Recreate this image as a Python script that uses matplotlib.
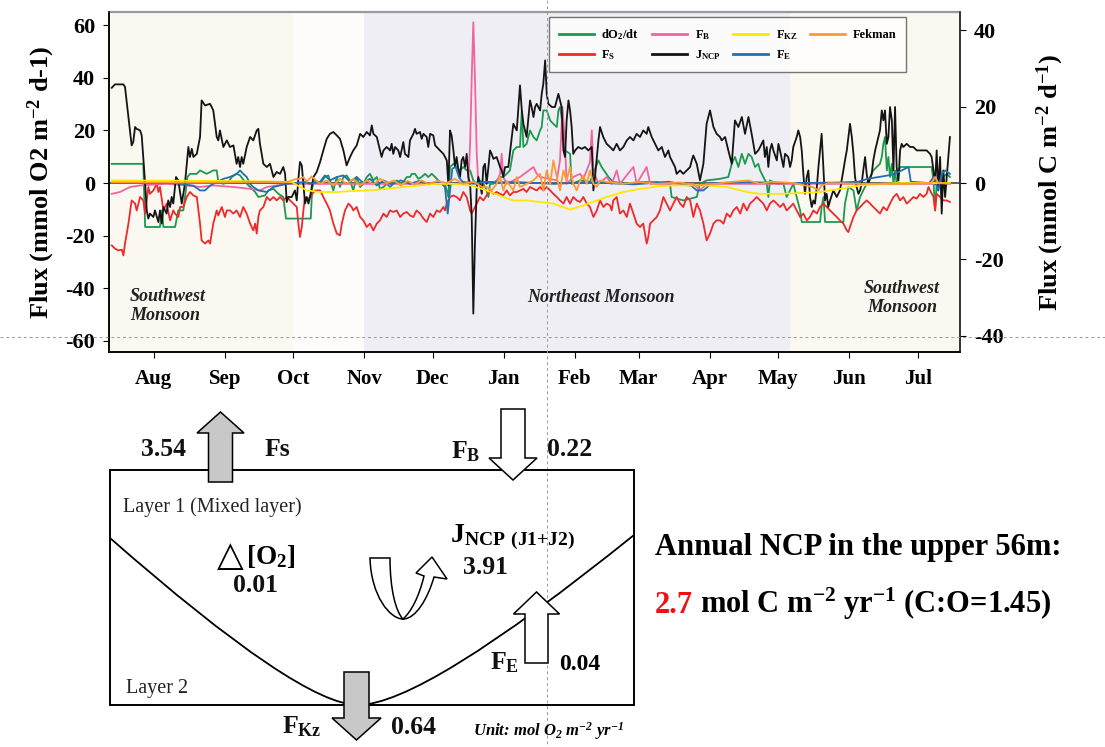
import matplotlib
matplotlib.use("Agg")
import matplotlib.pyplot as plt
import numpy as np
from matplotlib.lines import Line2D
from matplotlib.patches import FancyArrow, Rectangle, PathPatch
from matplotlib.path import Path

plt.rcParams["font.family"] = ["Liberation Serif", "DejaVu Serif"]
plt.rcParams["font.weight"] = "bold"
plt.rcParams["axes.labelweight"] = "bold"
plt.rcParams["axes.unicode_minus"] = False
plt.rcParams["mathtext.default"] = "regular"
plt.rcParams["axes.linewidth"] = 1.2

# x positions are days counted from 1 Aug
MONTHS = ["Aug", "Sep", "Oct", "Nov", "Dec", "Jan", "Feb", "Mar", "Apr", "May", "Jun", "Jul"]
MONTH_START = [0, 31, 61, 92, 122, 153, 184, 212, 243, 273, 304, 334]

# (day, mmol O2 m-2 d-1)
jncp = [
    (-18.4, 36.2), (-17.0, 37.5), (-13.3, 37.5), (-12.6, 36.5), (-9.7, 14.3), (-9.0, 15.6), (-8.2, 21.3),
    (-7.5, 20.6), (-6.0, 20.0), (-5.3, 18.1), (-3.8, -0.3), (-3.1, -10.4), (-2.4, -13.5), (-1.7, -11.6),
    (-0.2, -12.9), (0.5, -10.4), (2.0, -14.8), (2.7, -10.4), (3.5, -15.4), (4.2, -9.1), (5.6, -11.6),
    (6.3, -6.6), (7.1, -9.1), (7.8, -5.3), (8.5, -7.8), (9.7, 2.3), (10.7, 1.0), (12.2, -7.8), (13.6, -0.3),
    (15.1, 13.7), (15.8, 9.9), (16.6, 13.0), (17.3, 9.9), (18.8, 11.1), (20.2, 17.5), (20.9, 31.4),
    (22.4, 29.5), (24.6, 30.1), (26.0, 27.6), (27.5, 17.5), (28.2, 16.2), (28.9, 20.0), (30.4, 13.7),
    (31.9, 16.2), (33.3, 13.7), (34.8, 14.3), (36.2, 7.3), (36.9, 9.9), (37.7, 6.1), (38.4, 9.9), (39.1, 7.3),
    (40.6, 13.7), (42.1, 17.5), (43.5, 16.2), (45.0, 20.0), (45.7, 20.6), (46.4, 14.9), (47.9, 7.3),
    (49.4, 6.1), (50.8, 7.3), (52.3, 2.3), (53.7, 4.2), (55.2, 3.5), (55.9, 4.8), (56.6, 6.1), (57.4, 3.5),
    (58.1, -7.2), (58.8, -5.3), (60.3, -5.3), (61.7, -2.8), (62.5, -6.6), (63.2, 1.6), (63.9, 8.0),
    (64.7, 6.7), (65.4, -0.3), (66.1, -7.8), (66.9, -5.3), (67.6, -7.8), (68.3, -5.3), (69.8, 2.3),
    (71.2, 4.2), (72.7, 8.0), (74.1, 12.4), (75.6, 16.8), (77.0, 18.7), (78.5, 19.4), (80.0, 18.1),
    (81.4, 16.8), (82.9, 12.4), (84.3, 6.7), (85.8, 9.9), (87.2, 12.4), (88.7, 14.3), (90.2, 18.7),
    (91.6, 17.5), (93.1, 19.4), (94.5, 18.1), (95.3, 21.9), (96.0, 18.7), (97.5, 17.5), (98.9, 12.4),
    (99.6, 9.9), (100.4, 12.4), (101.8, 13.7), (103.3, 12.4), (104.0, 14.9), (104.7, 11.1), (105.5, 13.7),
    (106.9, 12.4), (107.7, 9.9), (109.1, 15.6), (109.8, 11.1), (111.3, 9.9), (112.0, 16.2), (113.5, 18.7),
    (114.2, 20.6), (114.9, 18.7), (116.4, 19.4), (117.1, 16.8), (117.9, 18.7), (119.3, 17.5), (120.0, 13.7),
    (120.8, 18.7), (122.2, 18.1), (123.0, 14.3), (123.7, 13.7), (125.1, 12.4), (126.6, 11.1), (128.1, 8.6),
    (128.8, -0.9), (129.5, 20.0), (130.2, 18.1), (131.0, 12.4), (131.7, 6.1), (132.4, 9.9), (133.2, 4.8),
    (133.9, 2.3), (134.6, 8.6), (135.3, 9.9), (136.1, 6.1), (136.8, 11.1), (137.5, 2.3), (138.3, -0.3),
    (139.0, -12.9), (139.7, -49.6), (140.4, -23.0), (141.2, -1.5), (141.9, 2.3), (142.6, -0.3), (143.4, -4.1),
    (144.1, 6.1), (144.8, 7.3), (145.5, -0.3), (146.3, 6.1), (147.0, 12.4), (147.7, 11.1), (148.5, 9.2),
    (149.9, 9.9), (151.4, 6.1), (152.1, 4.8), (152.8, 2.3), (153.6, 6.1), (155.0, 6.1), (156.5, 17.5),
    (157.2, 22.5), (158.7, 20.0), (160.1, 37.1), (160.9, 27.6), (161.6, 22.5), (162.3, 20.0), (163.0, 17.5),
    (164.5, 31.4), (165.2, 28.9), (166.0, 25.1), (166.7, 28.9), (167.4, 30.1), (168.9, 27.6), (169.6, 33.9),
    (170.3, 37.7), (171.1, 46.6), (171.8, 33.9), (172.5, 30.1), (174.0, 28.9), (175.4, 28.9), (176.9, 33.9),
    (177.6, 31.4), (178.3, 28.9), (179.1, 12.4), (179.8, 9.9), (180.5, 23.8), (181.3, 31.4), (182.0, 27.6),
    (182.7, 21.3), (183.4, 11.1), (184.2, 12.4), (185.6, 13.7), (187.1, 13.0), (188.5, 13.7), (190.0, 12.4),
    (191.5, 13.7), (192.2, -2.8), (192.9, 2.3), (194.4, 16.2), (195.1, 21.3), (196.5, 17.5), (198.0, 14.9),
    (199.5, 13.7), (200.9, 12.4), (202.4, 14.9), (203.8, 12.4), (205.3, 13.7), (206.8, 16.2), (208.2, 17.5),
    (209.7, 16.2), (211.1, 18.7), (212.6, 17.5), (214.0, 20.0), (215.5, 18.7), (216.2, 21.3), (217.7, 17.5),
    (219.2, 14.9), (220.6, 12.4), (222.1, 13.7), (223.5, 9.9), (225.0, 12.4), (225.7, 9.9), (227.2, 7.3),
    (227.9, 6.1), (228.6, 3.5), (230.1, 4.8), (231.5, 3.5), (233.0, 4.8), (234.5, 6.1), (235.2, 8.6),
    (235.9, 10.5), (237.4, 7.3), (238.8, 1.0), (240.3, 7.3), (241.7, 22.5), (243.2, 27.6), (244.7, 21.3),
    (246.1, 18.7), (247.6, 17.5), (248.3, 16.2), (249.8, 17.5), (250.5, 14.9), (251.2, 12.4), (252.7, 7.3),
    (254.1, 23.8), (255.6, 21.3), (257.1, 25.1), (258.5, 18.7), (260.0, 25.1), (261.4, 18.7), (262.9, 11.1),
    (264.3, 12.4), (265.1, 13.7), (266.5, 16.2), (267.2, 9.9), (268.0, 13.7), (268.7, 6.1), (269.4, 12.4),
    (270.2, 14.9), (270.9, 12.4), (272.4, 8.6), (273.1, 14.9), (273.8, 12.4), (275.3, 6.1), (276.0, 11.1),
    (277.4, 9.9), (278.2, 6.1), (278.9, 8.6), (279.6, 13.7), (281.1, 17.5), (281.8, 20.0), (282.6, 17.5),
    (283.3, 12.4), (284.0, 3.5), (284.7, -4.1), (285.5, 2.3), (286.2, 4.8), (286.9, -5.3), (287.7, -9.1),
    (288.4, -6.6), (289.1, -7.8), (289.9, -1.5), (290.6, 6.1), (291.3, 12.4), (292.0, 18.7), (292.8, 4.8),
    (293.5, -6.6), (294.2, -4.1), (294.9, -9.1), (295.7, -6.6), (297.1, -2.8), (298.6, -5.3), (300.0, -2.8),
    (301.5, 4.8), (302.2, 8.6), (303.0, 12.4), (303.7, 17.5), (304.4, 22.5), (305.2, 17.5), (305.9, 11.1),
    (306.6, 2.3), (307.3, -1.5), (308.1, -4.1), (308.8, -2.8), (309.5, -0.3), (310.2, 4.8), (311.0, 9.9),
    (311.7, 3.5), (312.4, -0.3), (313.9, 3.5), (314.6, 8.6), (315.4, 12.4), (316.1, 14.9), (316.8, 17.5),
    (317.5, 20.0), (318.3, 27.6), (319.0, 23.8), (319.7, 27.6), (320.5, 14.9), (321.2, 17.5), (321.9, 28.9),
    (322.7, 23.8), (323.4, 4.8), (324.1, 28.9), (324.8, 6.1), (325.6, 1.0), (326.3, 12.4), (327.0, 14.9),
    (327.7, 13.7), (329.2, 14.9), (330.7, 13.7), (332.1, 13.7), (333.6, 12.4), (335.0, 12.4), (336.5, 12.4),
    (337.9, 12.4), (339.4, 11.1), (340.1, 9.9), (340.9, 4.8), (341.6, -0.3), (342.3, 12.4), (343.0, -2.8),
    (343.8, 9.9), (344.5, -11.6), (345.2, 4.8), (346.0, -5.3), (346.7, 2.3), (347.4, 9.9), (348.1, 17.5),
]

fs = [
    (-18.4, -23.7), (-17.0, -24.9), (-15.5, -25.6), (-14.0, -25.3), (-13.3, -27.5), (-12.6, -23.0),
    (-11.1, -15.4), (-9.7, -6.6), (-8.2, -7.8), (-7.5, -10.4), (-6.0, -5.3), (-4.6, -6.6), (-3.8, -11.6),
    (-2.4, -1.5), (-1.7, -4.1), (-0.2, -2.8), (1.3, -0.3), (2.0, -3.4), (2.7, -1.5), (4.2, -10.4), (5.6, -7.8),
    (7.1, -14.2), (8.5, -10.4), (9.3, -11.6), (10.7, -12.9), (11.5, -9.1), (12.9, -9.1), (14.4, -5.3),
    (15.8, -3.4), (17.3, -4.7), (18.8, -5.3), (19.5, -10.4), (20.2, -15.4), (20.9, -21.8), (22.4, -23.0),
    (23.9, -21.8), (24.6, -23.0), (26.0, -15.4), (27.5, -10.4), (28.2, -12.3), (29.7, -9.1), (31.1, -12.9),
    (31.9, -10.4), (33.3, -10.4), (34.8, -11.6), (36.2, -10.4), (37.7, -12.9), (39.1, -9.1), (40.6, -11.6),
    (42.1, -15.4), (43.5, -18.0), (44.3, -15.4), (45.0, -19.2), (45.7, -12.9), (46.4, -10.4), (47.9, -9.1),
    (49.4, -5.3), (50.8, -6.6), (52.3, -5.3), (53.7, -6.6), (55.2, -5.3), (56.6, -6.6), (58.1, -5.3),
    (59.6, -6.6), (61.0, -7.8), (62.5, -9.1), (63.2, -15.4), (63.9, -20.5), (64.7, -16.7), (65.4, -10.4),
    (66.1, -5.3), (66.9, -6.6), (68.3, -5.3), (70.5, -2.8), (72.7, -2.8), (74.1, -5.3), (75.6, -7.8),
    (77.0, -10.4), (78.5, -15.4), (80.0, -19.2), (81.4, -19.9), (82.2, -15.4), (83.6, -10.4), (85.1, -7.8),
    (86.5, -9.1), (87.2, -10.4), (88.7, -9.1), (90.2, -12.9), (91.6, -14.2), (93.1, -16.7), (94.5, -15.4),
    (96.0, -18.0), (97.5, -15.4), (98.9, -14.2), (100.4, -11.6), (101.8, -12.9), (103.3, -10.4),
    (104.7, -11.0), (106.2, -10.4), (107.7, -12.9), (109.1, -11.6), (110.6, -11.0), (112.0, -12.3),
    (113.5, -12.9), (114.9, -10.4), (116.4, -11.6), (117.9, -13.5), (119.3, -14.8), (120.8, -11.6),
    (122.2, -12.9), (123.7, -10.4), (125.1, -11.0), (126.6, -9.1), (127.3, -10.4), (128.1, -7.8),
    (129.5, -5.3), (131.0, -4.7), (132.4, -5.3), (133.9, -6.6), (135.3, -3.4), (136.8, -5.3), (138.3, -10.4),
    (139.0, -11.6), (139.7, -10.4), (141.2, -7.8), (142.6, -5.3), (144.1, -6.6), (145.5, -4.7), (147.0, -2.8),
    (148.5, -4.1), (149.9, -3.4), (151.4, -4.1), (152.8, -4.7), (154.3, -2.8), (155.7, -4.7), (157.2, -3.4),
    (158.7, -3.4), (160.1, -2.8), (161.6, -2.2), (163.0, -3.4), (164.5, -1.5), (166.0, -2.2), (167.4, -2.8),
    (168.9, -1.5), (170.3, -2.8), (171.8, -1.5), (173.3, -2.8), (174.7, -4.1), (176.2, -5.3), (177.6, -6.6),
    (179.1, -7.8), (180.5, -5.3), (182.0, -7.8), (183.4, -5.3), (184.9, -6.6), (186.4, -7.2), (187.8, -5.3),
    (189.3, -7.8), (190.7, -9.1), (192.2, -12.9), (193.7, -10.4), (195.1, -6.6), (196.6, -9.1), (198.0, -7.8),
    (199.5, -8.5), (200.2, -10.4), (200.9, -6.6), (202.4, -5.3), (203.8, -11.6), (205.3, -10.4),
    (206.8, -12.9), (208.2, -7.8), (209.7, -11.6), (211.1, -15.4), (212.6, -16.7), (214.0, -15.4),
    (215.5, -23.0), (216.2, -20.5), (217.0, -15.4), (218.4, -14.2), (219.9, -12.9), (221.3, -10.4),
    (222.8, -5.3), (224.2, -7.8), (225.7, -10.4), (227.2, -7.8), (228.6, -5.3), (230.1, -7.8), (231.5, -9.1),
    (233.0, -5.3), (234.5, -6.6), (235.9, -12.9), (237.4, -7.8), (238.8, -10.4), (240.3, -15.4),
    (241.7, -21.8), (243.2, -19.2), (244.7, -15.4), (246.1, -14.2), (247.6, -14.2), (249.1, -15.4),
    (250.5, -11.6), (252.0, -12.9), (253.4, -10.4), (254.9, -9.1), (256.4, -11.6), (257.8, -7.8),
    (259.3, -10.4), (260.7, -7.8), (262.2, -6.6), (263.6, -5.3), (265.1, -6.6), (266.5, -7.8), (268.0, -10.4),
    (269.4, -7.8), (270.9, -6.6), (272.4, -7.8), (273.8, -9.1), (275.3, -7.8), (276.7, -10.4), (278.2, -9.1),
    (279.6, -7.8), (281.1, -10.4), (282.6, -12.9), (284.0, -11.6), (285.5, -14.2), (286.9, -12.9),
    (288.4, -10.4), (289.9, -11.6), (291.3, -9.1), (292.8, -7.8), (294.2, -9.1), (295.7, -10.4),
    (297.1, -11.6), (298.6, -12.9), (300.0, -14.2), (301.5, -15.4), (303.0, -18.0), (303.7, -18.6),
    (304.4, -16.7), (305.9, -12.9), (307.3, -10.4), (308.8, -9.1), (310.2, -7.8), (311.7, -6.6), (313.2, -7.8),
    (314.6, -9.1), (316.1, -10.4), (317.5, -11.6), (319.0, -9.1), (320.5, -10.4), (321.9, -7.8), (323.4, -5.3),
    (324.8, -4.1), (326.3, -6.6), (327.7, -5.3), (329.2, -7.8), (330.7, -6.6), (332.1, -5.3), (333.6, -5.9),
    (335.0, -4.1), (336.5, -5.3), (337.9, -4.1), (338.7, -1.5), (339.4, -2.8), (340.9, -5.3), (341.6, -10.4),
    (342.3, -4.1), (343.8, -5.3), (345.2, -6.6), (346.7, -6.6), (348.1, -7.2),
]

do2dt = [
    (-18.4, 7.3), (-4.6, 7.3), (-3.8, -16.7), (2.7, -16.7), (3.5, -10.4), (4.2, -16.7), (9.3, -16.7),
    (10.7, -10.4), (12.9, -10.4), (14.7, 2.3), (15.8, 3.5), (18.8, 3.5), (20.2, 4.8), (23.1, 3.5), (26.0, 4.8),
    (27.5, 4.8), (28.2, 0.4), (30.4, -0.3), (32.6, 0.4), (34.1, 2.3), (36.2, 3.5), (37.7, 2.9), (39.9, 0.4),
    (42.1, -1.5), (44.3, -3.4), (45.7, -5.3), (48.6, -4.7), (50.1, -2.8), (52.3, -2.2), (54.5, -4.1),
    (56.6, -5.3), (57.8, -13.5), (68.6, -13.5), (69.3, -1.5), (70.5, 1.0), (72.7, -0.3), (74.8, 2.3),
    (76.3, 2.9), (78.5, -2.8), (80.0, 2.3), (81.4, -1.5), (82.9, 2.3), (84.3, 2.9), (85.8, 1.0), (87.2, -2.8),
    (88.7, 2.3), (90.2, -1.5), (91.6, -0.3), (93.1, 2.3), (94.5, 3.5), (96.0, 1.0), (97.5, 2.3), (98.9, -2.2),
    (100.4, -1.5), (101.8, -0.3), (103.3, -1.5), (104.7, -0.3), (106.2, 1.0), (107.7, -0.3), (109.1, 0.4),
    (110.6, 2.3), (112.0, 2.3), (112.8, 3.5), (114.2, 3.5), (115.7, 1.6), (117.1, 2.3), (118.6, 3.5),
    (120.0, 2.3), (121.5, 3.5), (123.0, 2.3), (124.4, 1.0), (125.9, -0.3), (127.3, -0.3), (128.1, -2.8),
    (128.8, -5.3), (129.5, 6.1), (131.0, 7.3), (132.4, 6.1), (133.9, 4.8), (135.3, 6.1), (136.8, 4.8),
    (138.3, 4.8), (139.7, 1.0), (141.2, -0.3), (142.6, 1.0), (144.1, -0.3), (145.5, -2.8), (146.3, -5.3),
    (147.0, -0.3), (148.5, -0.3), (149.9, 1.0), (151.4, 2.3), (152.8, 2.3), (154.3, 3.5), (155.7, 4.8),
    (157.2, 12.4), (158.7, 13.7), (160.1, 13.7), (160.9, 27.6), (161.6, 13.7), (163.0, 14.9), (164.5, 20.0),
    (166.0, 17.5), (167.4, 16.2), (168.9, 20.0), (169.6, 21.3), (170.3, 27.6), (171.8, 27.6), (173.3, 23.8),
    (174.7, 22.5), (176.2, 21.3), (176.9, 27.6), (177.6, 28.9), (178.3, 25.1), (179.1, 17.5), (179.8, 12.4),
    (182.0, 11.1), (182.7, -0.3), (186.4, 1.0), (190.7, 0.4), (194.4, 8.6), (195.8, 6.1), (197.3, 4.2),
    (198.8, 2.3), (200.9, 0.4), (206.8, -0.3), (212.6, 0.4), (219.9, 0.4), (225.7, -0.3), (226.4, -5.3),
    (231.5, -6.6), (237.4, -5.3), (238.8, -0.3), (241.7, 1.0), (247.6, 1.6), (251.2, 2.3), (252.7, 7.3),
    (254.1, 9.9), (255.6, 6.1), (257.1, 11.1), (258.5, 7.3), (260.0, 11.1), (261.4, 9.9), (262.9, 6.1),
    (264.3, 7.3), (265.1, 4.8), (266.5, 2.3), (268.0, -0.3), (268.7, -5.3), (269.4, 1.0), (272.4, -0.3),
    (275.3, -0.3), (276.7, -5.3), (278.2, -2.8), (279.6, -0.3), (281.1, -5.3), (282.6, -10.4), (283.3, -14.8),
    (291.3, -14.8), (292.0, -9.1), (292.8, -5.3), (293.5, -14.8), (301.5, -14.8), (302.2, -7.8),
    (303.7, -1.5), (305.9, -2.8), (307.3, -10.4), (308.8, -5.3), (310.2, -2.8), (311.7, -0.3), (313.2, 2.3),
    (314.6, 4.8), (317.5, 7.3), (318.3, 9.9), (319.0, 14.9), (319.7, 17.5), (320.5, 4.8), (321.2, 9.9),
    (321.9, 2.3), (322.7, 7.3), (323.4, -0.3), (324.1, 4.8), (324.8, -0.3), (326.3, 6.1), (340.1, 6.1),
    (340.9, 1.0), (341.6, -10.4), (342.3, -0.3), (343.8, 4.8), (344.5, -5.3), (345.2, 2.3), (346.7, 3.5),
    (348.1, 2.3),
]

fb = [
    (-18.4, -4.1), (-14.8, -3.4), (-10.4, -1.5), (-6.0, -0.9), (5.6, -0.3), (14.4, -0.9), (20.2, -1.5),
    (26.0, -0.9), (34.8, -1.5), (42.1, -2.2), (46.4, -2.8), (49.4, -1.5), (58.1, -0.3), (72.7, -0.3),
    (100.0, -0.3), (137.5, -0.3), (138.3, 14.9), (139.0, 40.0), (139.7, 61.1), (140.4, 40.3), (141.2, 11.1),
    (141.9, -0.3), (150.0, 0.5), (151.4, 3.5), (152.1, 11.1), (152.8, 2.3), (154.3, -0.3), (160.1, 2.3),
    (166.0, 6.1), (167.4, 3.5), (168.9, 2.3), (176.2, 1.0), (177.6, 8.6), (178.7, 28.9), (179.8, 14.9),
    (180.5, -0.3), (183.4, 2.3), (186.4, 3.5), (187.8, 1.5), (190.7, 8.0), (191.5, 20.0), (192.2, 4.8),
    (194.4, -0.3), (198.0, 2.3), (200.2, -0.3), (202.4, 4.8), (203.8, -0.3), (209.7, 6.1), (211.1, -0.3),
    (215.5, 6.1), (217.0, -0.3), (236.0, -0.3), (238.8, -2.8), (241.7, -0.3), (300.0, -0.3), (348.1, -0.3),
]

fe = [
    (-18.4, 0.0), (10.0, 0.0), (12.9, -0.5), (17.3, -1.0), (20.2, -2.8), (22.4, -2.8), (24.6, -1.0),
    (26.0, -0.3), (30.4, 1.6), (33.3, 2.3), (36.2, 3.5), (37.7, 4.8), (39.1, 3.5), (40.6, 2.3), (42.1, -0.3),
    (43.5, -1.5), (45.7, -2.8), (49.4, -3.4), (52.3, -1.5), (55.2, -0.9), (58.1, -0.3), (66.1, 0.4),
    (68.3, -0.3), (72.7, 0.5), (74.8, 2.9), (77.0, 1.0), (80.0, 2.3), (82.9, 2.9), (85.8, 0.5), (88.7, 2.3),
    (91.6, 0.0), (94.5, 1.6), (97.5, -0.9), (100.4, 1.0), (104.0, -0.5), (108.0, 1.0), (112.0, -0.3),
    (116.0, 0.8), (120.0, -0.3), (125.0, 0.5), (127.3, -1.5), (128.5, -11.6), (129.5, -3.0), (130.5, 5.5),
    (132.0, 6.1), (133.5, 2.0), (135.0, 0.5), (140.0, -0.3), (145.0, 0.5), (150.0, 0.3), (160.0, 0.3),
    (175.0, -0.3), (190.0, 0.3), (210.0, -0.5), (225.0, 0.5), (235.0, -1.0), (237.4, -2.8), (240.3, -2.8),
    (244.0, 0.0), (260.0, 0.3), (280.0, 0.0), (300.0, 0.2), (308.0, 0.5), (312.0, 1.6), (317.0, 2.3),
    (321.0, 2.9), (324.0, 3.5), (327.0, 4.8), (330.0, 6.1), (331.0, 0.5), (339.0, 0.0), (341.0, 2.3),
    (343.0, -2.8), (344.5, 3.5), (346.0, 4.8), (348.1, 3.5),
]

fkz = [
    (-18.4, 1.0), (30.0, 0.8), (55.0, 0.5), (60.3, 0.4), (63.0, -1.0), (66.9, -2.8), (72.7, -3.4),
    (80.0, -3.4), (87.2, -3.0), (94.5, -2.8), (101.8, -2.2), (109.1, -1.5), (116.4, -0.9), (123.7, -0.3),
    (131.0, -0.3), (138.3, -0.9), (145.5, -2.8), (152.8, -5.3), (157.2, -6.6), (163.0, -6.6), (168.9, -7.2),
    (174.7, -7.8), (182.0, -10.1), (187.8, -8.5), (198.0, -5.3), (205.3, -3.4), (212.6, -2.2),
    (219.9, -1.3), (227.2, -0.9), (241.7, -0.9), (250.5, -1.5), (259.3, -3.4), (265.1, -4.1), (273.8, -4.1),
    (282.6, -3.8), (291.3, -3.4), (300.0, -2.2), (308.8, -0.9), (317.5, -0.3), (326.3, 0.0), (348.1, 0.0),
]

fekman = [
    (-18.4, 0.3), (20.0, 0.2), (50.0, 0.5), (58.0, 0.3), (62.0, 1.5), (63.9, 1.6), (65.4, 2.3), (66.9, 0.5),
    (69.0, 2.5), (72.7, -0.3), (75.6, 1.0), (78.5, -0.9), (81.4, 1.6), (84.3, -0.3), (87.2, 1.6),
    (90.2, -0.9), (93.1, 1.0), (96.0, -0.5), (99.0, 1.6), (102.0, 0.0), (105.0, 1.0), (108.0, -0.9),
    (111.0, 0.8), (114.0, -0.5), (117.0, 1.0), (120.0, -0.3), (124.0, 0.8), (128.0, 0.0), (131.7, 1.6),
    (135.0, -0.3), (140.0, 0.5), (143.4, -1.5), (145.5, -1.5), (147.7, -2.8), (149.9, -0.3), (151.4, 2.3),
    (152.8, -2.8), (154.3, 0.8), (157.2, -2.8), (158.7, 2.3), (160.1, -1.5), (163.0, -0.3), (166.0, 1.0),
    (167.4, 2.3), (168.9, 3.5), (170.3, -2.8), (171.8, 4.8), (173.3, -0.3), (174.7, 8.6), (176.2, 2.3),
    (177.6, -2.8), (179.1, 4.8), (180.5, 1.0), (182.0, 6.1), (183.4, -0.3), (184.9, -2.8), (186.4, 1.0),
    (187.8, 2.9), (189.3, -0.3), (190.7, 4.8), (192.2, -0.3), (193.7, -1.5), (195.1, 1.0), (198.0, 0.4),
    (205.0, -0.3), (212.0, 0.4), (220.0, -0.3), (230.0, 0.2), (237.0, -0.9), (245.0, -0.3), (252.0, 0.4),
    (260.0, 1.0), (265.0, -0.3), (270.0, 0.5), (280.0, 0.0), (288.0, -1.5), (290.6, -2.8), (292.0, -1.0),
    (295.0, 0.0), (310.0, -0.3), (330.0, -0.3), (340.0, 0.0), (341.6, 2.3), (343.0, 0.0), (348.1, -0.3),
]

# annual budget numbers shown in the box diagram (mol O2 m-2 yr-1)
FLUX_FS = 3.54
FLUX_FB = 0.22
DELTA_O2 = 0.01
FLUX_JNCP = 3.91
FLUX_FE = 0.04
FLUX_FKZ = 0.64
ANNUAL_NCP_C = 2.7
C_TO_O = 1.45

SERIES = [
    # label, data, colour, zorder
    ("dO$_2$/dt", do2dt, "#1c9a4c", 3),
    ("F$_S$", fs, "#ee2a2a", 3),
    ("F$_B$", fb, "#f2649e", 3),
    ("J$_{NCP}$", jncp, "#141414", 4),
    ("F$_{KZ}$", fkz, "#ffe800", 5),
    ("F$_E$", fe, "#2070b6", 4),
    ("Fekman", fekman, "#ff9a33", 6),
]

W, H = 1105, 747
fig = plt.figure(figsize=(W / 100, H / 100), dpi=100)

ax_l, ax_r, ax_t, ax_b = 109, 960, 12, 352
ax = fig.add_axes([ax_l / W, 1 - ax_b / H, (ax_r - ax_l) / W, (ax_b - ax_t) / H])
ylo, yhi = -64.2, 65.0
ax.set_xlim(-19.6, 352.5)
ax.set_ylim(ylo, yhi)

# season shading
ax.axvspan(-19.6, 61, color="#fbf7f1", lw=0, zorder=0)
ax.axvspan(61, 92, color="#fdfcfb", lw=0, zorder=0)
ax.axvspan(92, 278, color="#efeef5", lw=0, zorder=0)
ax.axvspan(278, 352.5, color="#fbf7f1", lw=0, zorder=0)
ax.axhline(0, color="#555555", lw=1.3, zorder=1)

handles = []
for label, data, color, z in SERIES:
    d = np.array(data)
    ax.plot(d[:, 0], d[:, 1], color=color, lw=1.3, zorder=z)
    handles.append(Line2D([], [], color=color, lw=2.0, label=label))

ax.set_xticks(MONTH_START)
ax.set_xticklabels(MONTHS)
ax.set_yticks([-60, -40, -20, 0, 20, 40, 60])
ax.tick_params(axis="y", labelsize=16, direction="out", length=4, pad=6)
ax.tick_params(axis="x", labelsize=15, direction="out", length=4, pad=8)
ax.set_ylabel("Flux (mmol O2 m$^{-2}$ d-1)", fontsize=19, labelpad=6)
ax.spines["top"].set_color("#9a9a9a")
ax.spines["top"].set_linewidth(1.6)
for s in ("left", "bottom", "right"):
    ax.spines[s].set_color("#333333")

ax2 = ax.twinx()
ax2.set_ylim(ylo / C_TO_O, yhi / C_TO_O)
ax2.set_yticks([-40, -20, 0, 20, 40])
ax2.tick_params(axis="y", labelsize=16, direction="out", length=4, pad=6)
ax2.set_ylabel("Flux (mmol C m$^{-2}$ d$^{-1}$)", fontsize=19, labelpad=22)
ax2.spines["top"].set_visible(False)
ax2.spines["right"].set_color("#333333")

leg = ax.legend(handles=handles, ncol=4, loc="upper left", bbox_to_anchor=(0.517, 0.985),
                borderaxespad=0, fontsize=9, frameon=True, fancybox=False, edgecolor="#555555",
                handlelength=2.8, handletextpad=0.6, columnspacing=1.0,
                borderpad=0.8, labelspacing=0.5)
leg.get_frame().set_linewidth(1.0)
leg.set_zorder(10)

# overlay in pixel coordinates for the diagram and notes
dg = fig.add_axes([0, 0, 1, 1])
dg.set_xlim(0, W)
dg.set_ylim(H, 0)
dg.axis("off")
dg.set_zorder(3)

ital = dict(style="italic", fontsize=13, color="#222222")
dg.text(130, 306, "Southwest\nMonsoon", ha="left", va="center", linespacing=1.2, **ital)
dg.text(601, 298, "Northeast Monsoon", ha="center", va="center", **ital)
dg.text(902, 298, "Southwest\nMonsoon", ha="center", va="center", linespacing=1.2, **ital)

# slide guide lines
dg.plot([547, 547], [0, H], color="#9a9a9a", lw=0.7, ls=(0, (3, 3)), zorder=1)
dg.plot([0, W], [337, 337], color="#9a9a9a", lw=0.7, ls=(0, (3, 3)), zorder=1)

# box and layer interface
dg.add_patch(Rectangle((110, 470), 524, 235, fill=False, ec="black", lw=1.4, zorder=2))
curve = Path([(110, 538), (300, 705), (358, 705), (423, 705), (634, 535)],
             [Path.MOVETO, Path.CURVE3, Path.CURVE3, Path.CURVE3, Path.CURVE3])
dg.add_patch(PathPatch(curve, fill=False, ec="black", lw=1.3, zorder=2))

gray = "#c8c8c8"
arr = dict(length_includes_head=True, ec="black", lw=1.1, zorder=4)
dg.add_patch(FancyArrow(220.5, 482, 0, -70, width=24, head_width=47, head_length=21, fc=gray, **arr))
dg.add_patch(FancyArrow(513, 409, 0, 71, width=24, head_width=48, head_length=22, fc="white", **arr))
dg.add_patch(FancyArrow(536.5, 663, 0, -71, width=23, head_width=46, head_length=22, fc="white", **arr))
dg.add_patch(FancyArrow(356.5, 672, 0, 68, width=25, head_width=49, head_length=22, fc=gray, **arr))

u_turn = Path(
    [(370, 558), (371, 596), (390, 619), (403, 619),
     (416, 619), (428, 598), (434, 577),
     (447, 579), (432, 557), (416, 573), (424, 576),
     (419, 597), (411, 612), (403, 619),
     (396, 612), (390, 590), (390, 558), (370, 558)],
    [Path.MOVETO, Path.CURVE4, Path.CURVE4, Path.CURVE4,
     Path.CURVE4, Path.CURVE4, Path.CURVE4,
     Path.LINETO, Path.LINETO, Path.LINETO, Path.LINETO,
     Path.CURVE4, Path.CURVE4, Path.CURVE4,
     Path.CURVE4, Path.CURVE4, Path.CURVE4, Path.CLOSEPOLY])
dg.add_patch(PathPatch(u_turn, fc="white", ec="black", lw=1.1, zorder=4))

big = dict(fontsize=18.5, ha="center", va="center", color="#111111", zorder=5)
dg.text(164, 449, f"{FLUX_FS:.2f}", **big)
dg.text(277, 449, "Fs", **big)
dg.text(466, 452, "F$_B$", **big)
dg.text(570, 449, f"{FLUX_FB:.2f}", **big)
dg.text(123, 507, "Layer 1 (Mixed layer)", fontsize=14.5, fontweight="normal", ha="left", va="center", color="#222222")
dg.text(230, 556, "\u25b3", fontsize=25, family="DejaVu Sans", fontweight="normal", ha="center", va="center")
dg.text(271, 557, "[O$_2$]", fontsize=19.5, ha="center", va="center")
dg.text(256, 585, f"{DELTA_O2:.2f}", **big)
dg.text(450, 537, r"J$_{NCP\ (J1{+}J2)}$", fontsize=20, ha="left", va="center")
dg.text(486, 568, f"{FLUX_JNCP:.2f}", **big)
dg.text(505, 663, "F$_E$", **big)
dg.text(580, 665, f"{FLUX_FE:.2f}", fontsize=17, ha="center", va="center")
dg.text(126, 688, "Layer 2", fontsize=14.5, fontweight="normal", ha="left", va="center", color="#222222")
dg.text(302, 727, "F$_{Kz}$", **big)
dg.text(414, 728, f"{FLUX_FKZ:.2f}", **big)
dg.text(473, 731, "Unit: mol O$_2$ m$^{-2}$ yr$^{-1}$", fontsize=12, style="italic", ha="left", va="center")

dg.text(655, 548, "Annual NCP in the upper 56m:", fontsize=22, ha="left", va="center")
t1 = dg.text(655, 613, f"{ANNUAL_NCP_C}", fontsize=22, color="#ee1111", ha="left", va="baseline")
fig.canvas.draw()
x_end = dg.transData.inverted().transform((t1.get_window_extent().x1, 0))[0]
dg.text(x_end + 7, 613, f"mol C m$^{{-2}}$ yr$^{{-1}}$ (C:O={C_TO_O})", fontsize=22, ha="left", va="baseline")

fig.savefig("out.png", dpi=100)
